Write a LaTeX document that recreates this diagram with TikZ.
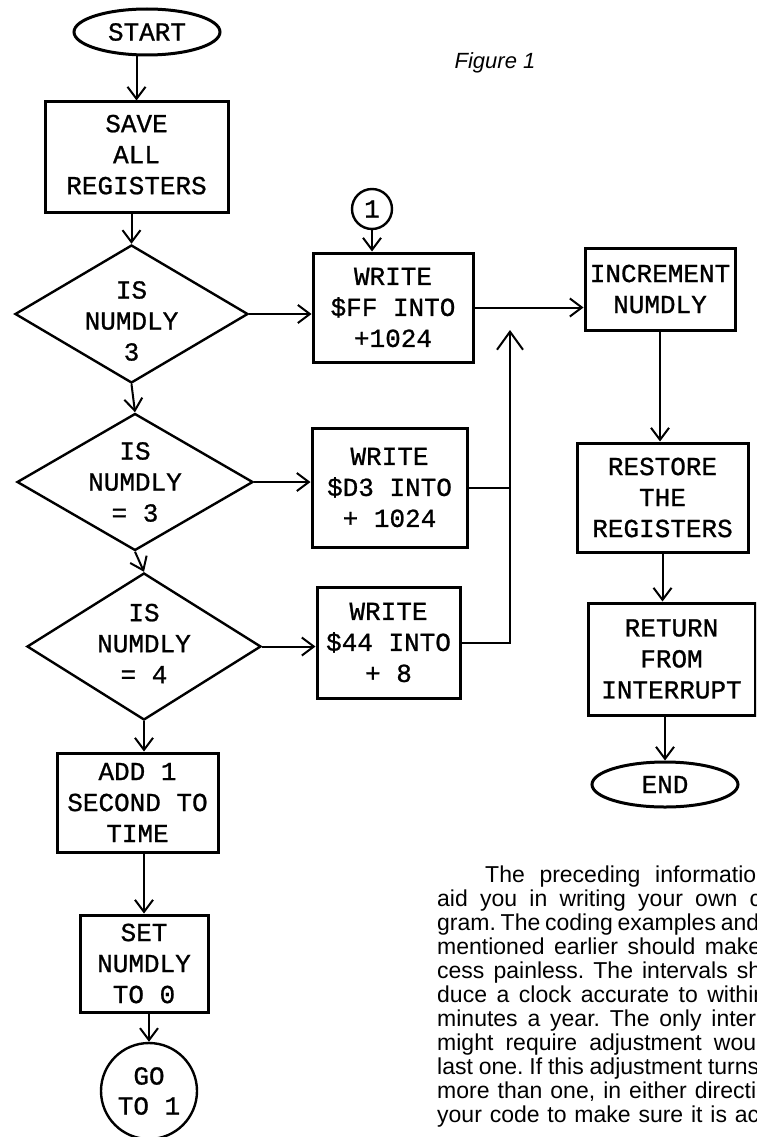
\documentclass[tikz,border=0pt]{standalone}
\usepackage{fontspec}
\setmainfont{Liberation Serif}
\newfontfamily\twfont{Liberation Mono}[FakeBold=0.9]
\newfontfamily\psfont{Liberation Sans}
\usetikzlibrary{shapes.geometric,arrows.meta}
\newcommand\jline[2]{\hbox to #1{\frenchspacing\spaceskip=.25em plus 3em minus .06em #2}}
\begin{document}
\begin{tikzpicture}[x=1pt,y=-1pt,
  every node/.style={font=\twfont\fontsize{26}{31}\selectfont, align=center, inner sep=0pt},
  box/.style={draw, line width=3pt, rectangle},
  dia/.style={draw, line width=2.4pt, diamond},
  term/.style={draw, line width=3pt, ellipse},
  conn/.style={draw, line width=2.4pt, circle},
  flow/.style={line width=2pt, -{Straight Barb[length=12pt,width=18pt,line width=2pt]}},
  wire/.style={line width=2pt},
  para/.style={font=\psfont\fontsize{23}{24}\selectfont, anchor=base west, inner sep=0pt}
]
\useasboundingbox (0,0) rectangle (756,1137);
\clip (0,0) rectangle (756,1137);

% terminals
\node[term, minimum width=146pt, minimum height=46pt] (start) at (147,32) {START};
\node[term, minimum width=146pt, minimum height=45pt] (end) at (665,784.5) {END};

% left column
\node[box, minimum width=183pt, minimum height=110pt] (save) at (136.5,157) {\raisebox{-4pt}{\begin{tabular}{@{}c@{}}SAVE\\ALL\\REGISTERS\end{tabular}}};
\node[dia, minimum width=233pt, minimum height=138pt, label={[yshift=-7pt]center:{IS\\NUMDLY\\3}}] (d1) at (131.5,314) {};
\node[dia, minimum width=236pt, minimum height=137pt, label={center:{IS\\NUMDLY\\= 3}}] (d2) at (135,482) {};
\node[dia, minimum width=234pt, minimum height=147pt, label={[yshift=3pt]center:{IS\\NUMDLY\\= 4}}] (d3) at (144,646.5) {};
\node[box, minimum width=161pt, minimum height=99pt] (add) at (137.5,802.5) {ADD 1\\SECOND TO\\TIME};
\node[box, minimum width=128pt, minimum height=97pt] (set) at (144,963.5) {SET\\NUMDLY\\TO 0};
\node[conn, minimum size=96pt, font=\twfont\fontsize{26}{30}\selectfont] (go) at (149,1091) {GO\\TO 1};

% middle column
\node[conn, minimum size=40pt] (c1) at (372,209) {1};
\node[box, minimum width=160pt, minimum height=109pt] (w1) at (393,307.5) {WRITE\\\$FF INTO\\+1024};
\node[box, minimum width=155pt, minimum height=119pt] (w2) at (389.5,487.5) {WRITE\\\$D3 INTO\\+ 1024};
\node[box, minimum width=143pt, minimum height=111pt] (w3) at (388.5,642.5) {WRITE\\\$44 INTO\\+ 8};
\coordinate (tip) at (510,330);

% right column
\node[box, minimum width=150pt, minimum height=82pt] (inc) at (660,289) {INCREMENT\\NUMDLY};
\node[box, minimum width=171pt, minimum height=109pt] (rest) at (662.5,497.5) {RESTORE\\THE\\REGISTERS};
\node[box, minimum width=167pt, minimum height=112pt] (ret) at (671.5,659) {RETURN\\FROM\\INTERRUPT};

% label
\node[font=\psfont\itshape\fontsize{22}{26}\selectfont] (fig) at (495,63) {Figure 1};

% connectors
\draw[flow] (save.north |- start.south) -- (save.north);
\draw[flow] (d1.north |- save.south) -- (d1.north);
\draw[flow] (d1.south) -- (d2.north);
\draw[flow] (d2.south) -- (d3.north);
\draw[flow] (d3.south) -- (d3.south |- add.north);
\draw[flow] (set.north |- add.south) -- (set.north);
\draw[flow] (go.north |- set.south) -- (go.north);
\draw[flow] (d1.east) -- (d1.east -| w1.west);
\draw[flow] (d2.east) -- (d2.east -| w2.west);
\draw[flow] (d3.east) -- (d3.east -| w3.west);
\draw[flow] (c1.south) -- (c1.south |- w1.north);
\draw[flow] (w1.east) -- (w1.east -| inc.west);
\draw[wire] (w2.east) -- (w2.east -| tip);
\draw[line width=2pt, -{Straight Barb[length=18pt,width=26pt,line width=2pt]}] (w3.east) -| (tip);
\draw[flow] (inc.south) -- (inc.south |- rest.north);
\draw[flow] (rest.south) -- (rest.south |- ret.north);
\draw[flow] (end.north |- ret.south) -- (end.north);

% text column
\node[para] (p1) at (485,882) {\jline{271pt}{The preceding informatio}};
\node[para] (p2) at (437,906) {\jline{324pt}{aid you in writing your own c}};
\node[para] (p3) at (437,930) {\jline{322pt}{gram. The coding examples and}};
\node[para] (p4) at (437,954) {\jline{324pt}{mentioned earlier should make}};
\node[para] (p5) at (437,978) {\jline{324pt}{cess painless. The intervals sh}};
\node[para] (p6) at (437,1002) {\jline{329pt}{duce a clock accurate to within}};
\node[para] (p7) at (437,1026) {\jline{319pt}{minutes a year. The only inter}};
\node[para] (p8) at (437,1050) {\jline{319pt}{might require adjustment wou}};
\node[para] (p9) at (437,1074) {\jline{322pt}{last one. If this adjustment turns}};
\node[para] (p10) at (437,1098) {\jline{319pt}{more than one, in either directi}};
\node[para] (p11) at (437,1122) {\jline{322pt}{your code to make sure it is ac}};
\end{tikzpicture}
\end{document}
